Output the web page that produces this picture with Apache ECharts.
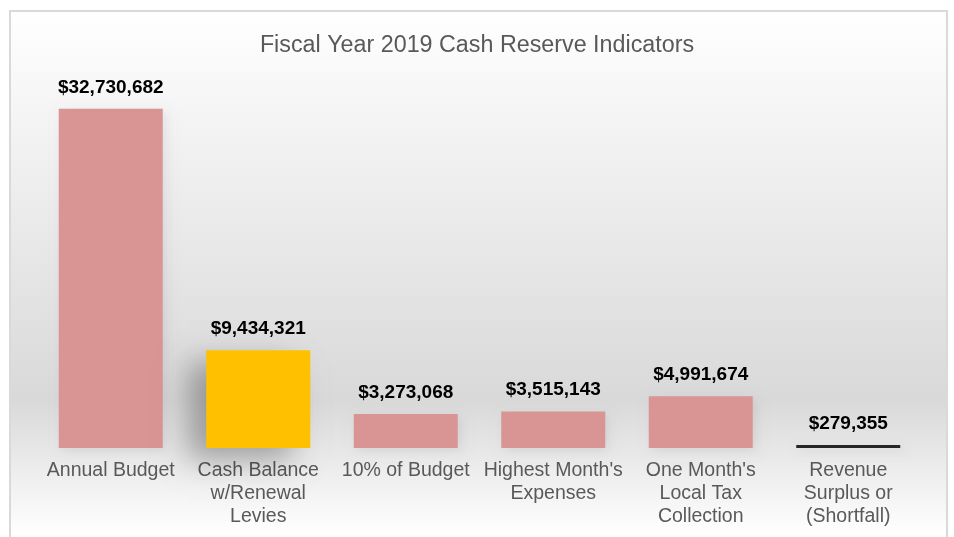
<!DOCTYPE html>
<html>
<head>
<meta charset="utf-8">
<script src="https://cdn.jsdelivr.net/npm/echarts@6/dist/echarts.min.js"></script>
<style>
  html, body { margin: 0; padding: 0; background: #ffffff; }
  #chart { width: 954px; height: 537px; }
</style>
</head>
<body>
<div id="chart"></div>
<script>
// Fiscal year 2019 cash reserve indicators
const categories = [
  'Annual Budget',
  'Cash Balance\nw/Renewal\nLevies',
  '10% of Budget',
  "Highest Month's\nExpenses",
  "One Month's\nLocal Tax\nCollection",
  'Revenue\nSurplus or\n(Shortfall)'
];
const amounts = [32730682, 9434321, 3273068, 3515143, 4991674, 279355];
const barColors = ['#d99594', '#ffc000', '#d99594', '#d99594', '#d99594', '#262626'];
// the cash balance bar is lifted off the page with a soft drop shadow
const raised = [false, true, false, false, false, false];

const fmt = v => '$' + v.toLocaleString('en-US');
const FONT = '"Liberation Sans", Arial, sans-serif';

const chart = echarts.init(document.getElementById('chart'), null, { renderer: 'canvas' });

function barStyle(i) {
  const style = { color: barColors[i] };
  if (raised[i]) {
    Object.assign(style, {
      shadowColor: 'rgba(0,0,0,0.30)',
      shadowBlur: 28,
      shadowOffsetX: -18,
      shadowOffsetY: 12
    });
  } else {
    Object.assign(style, {
      shadowColor: 'rgba(0,0,0,0.08)',
      shadowBlur: 10,
      shadowOffsetX: 3,
      shadowOffsetY: 3
    });
  }
  return style;
}

chart.setOption({
  animation: false,
  backgroundColor: '#ffffff',
  graphic: [{
    type: 'rect',
    z: -10,
    shape: { x: 10, y: 11, width: 937, height: 540 },
    style: {
      fill: {
        type: 'linear', x: 0, y: 0, x2: 0, y2: 1,
        colorStops: [
          { offset: 0, color: '#ffffff' },
          { offset: 0.2, color: '#f4f4f4' },
          { offset: 0.72, color: '#d9d9d9' },
          { offset: 0.97, color: '#ffffff' },
          { offset: 1, color: '#ffffff' }
        ]
      },
      stroke: '#d9d9d9',
      lineWidth: 2
    }
  }],
  title: {
    text: 'Fiscal Year 2019 Cash Reserve Indicators',
    left: 'center',
    top: 29,
    textStyle: { fontFamily: FONT, fontSize: 23.3, fontWeight: 'normal', color: '#595959' }
  },
  grid: { left: 37, right: 32, top: 106, bottom: 89, containLabel: false },
  xAxis: {
    type: 'category',
    data: categories,
    axisLine: { show: false },
    axisTick: { show: false },
    axisLabel: {
      interval: 0,
      margin: 11,
      fontFamily: FONT,
      fontSize: 19.5,
      lineHeight: 23,
      color: '#595959',
      align: 'center'
    }
  },
  yAxis: {
    type: 'value',
    min: 0,
    max: 33000000,
    show: false,
    splitLine: { show: false }
  },
  series: [{
    type: 'bar',
    barWidth: '70.5%',
    data: amounts.map((v, i) => ({
      value: v,
      itemStyle: barStyle(i)
    })),
    label: {
      show: true,
      position: 'top',
      distance: 12,
      formatter: p => fmt(p.value),
      fontFamily: FONT,
      fontSize: 19,
      fontWeight: 'bold',
      color: '#000000'
    }
  }]
});
</script>
</body>
</html>
